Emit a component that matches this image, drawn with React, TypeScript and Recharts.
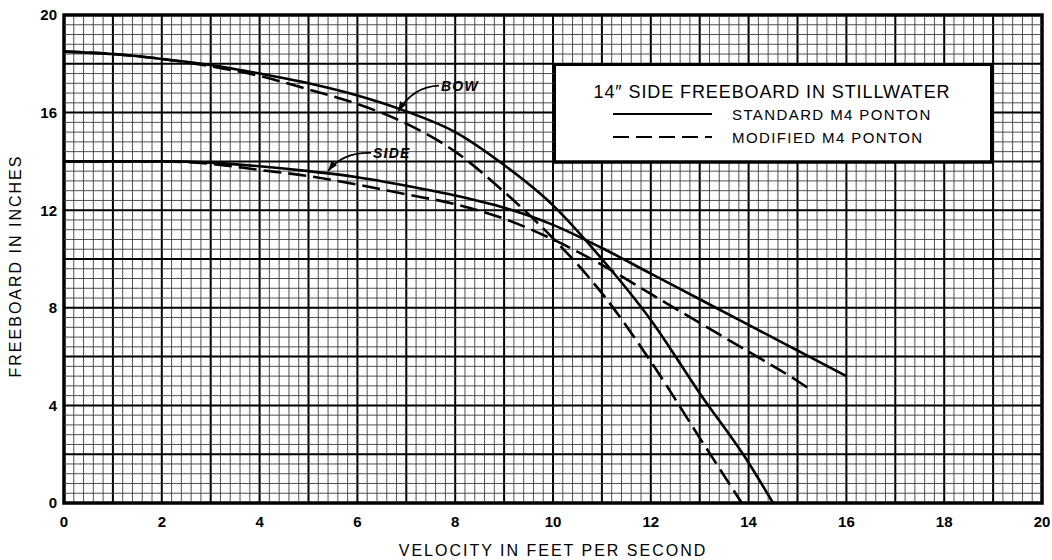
import React from 'react';
import {
  LineChart,
  Line,
  XAxis,
  YAxis,
  ReferenceLine,
  ReferenceArea,
  ReferenceDot,
} from 'recharts';

// velocity (ft/s) and freeboard (in)
const bowStdVelocity = [0, 1, 2, 3, 4, 5, 6, 7, 8, 9, 10, 11, 12, 13, 14, 14.5];
const bowStdFreeboard = [18.5, 18.4, 18.2, 17.95, 17.6, 17.2, 16.7, 16.05, 15.2, 13.85, 12.2, 10.0, 7.5, 4.5, 1.65, 0];

const bowModVelocity = [0, 1, 2, 3, 4, 5, 6, 7, 8, 9, 10, 11, 12, 13, 13.86];
const bowModFreeboard = [18.5, 18.4, 18.2, 17.9, 17.5, 16.95, 16.35, 15.55, 14.4, 12.75, 10.85, 8.6, 5.8, 2.67, 0];

const sideStdVelocity = [0, 1, 2, 3, 4, 5, 6, 7, 8, 9, 10, 11, 12, 13, 14, 15, 16];
const sideStdFreeboard = [14.0, 14.0, 14.0, 13.95, 13.8, 13.6, 13.35, 13.0, 12.6, 12.1, 11.4, 10.45, 9.4, 8.35, 7.3, 6.25, 5.2];

const sideModVelocity = [0, 1, 2, 3, 4, 5, 6, 7, 8, 9, 10, 11, 12, 13, 14, 15, 15.3];
const sideModFreeboard = [14.0, 14.0, 14.0, 13.9, 13.65, 13.4, 13.05, 12.65, 12.25, 11.65, 10.8, 9.76, 8.57, 7.38, 6.2, 5.0, 4.6];

const xTicks = [0, 2, 4, 6, 8, 10, 12, 14, 16, 18, 20];
const yTicks = [0, 4, 8, 12, 16, 20];

// graph paper: 0.2 ft/s and 0.4 in subdivisions
const gridX = Array.from({ length: 101 }, (_, i) => i / 5);
const gridY = Array.from({ length: 51 }, (_, i) => (i * 2) / 5);

const toPoints = (xs: number[], ys: number[]) => xs.map((v, i) => ({ v, f: ys[i] }));

const bowStd = toPoints(bowStdVelocity, bowStdFreeboard);
const bowMod = toPoints(bowModVelocity, bowModFreeboard);
const sideStd = toPoints(sideStdVelocity, sideStdFreeboard);
const sideMod = toPoints(sideModVelocity, sideModFreeboard);

const FONT = '"Liberation Sans", Arial, sans-serif';
const DASH = '18 7';

function arrowHead(x0: number, y0: number, x1: number, y1: number) {
  const dx = x1 - x0;
  const dy = y1 - y0;
  const len = Math.sqrt(dx * dx + dy * dy) || 1;
  const ux = dx / len;
  const uy = dy / len;
  const bx = x1 - ux * 10;
  const by = y1 - uy * 10;
  return `${x1},${y1} ${bx - uy * 3.5},${by + ux * 3.5} ${bx + uy * 3.5},${by - ux * 3.5}`;
}

function Callout(props: any) {
  const { cx, cy, text, tx, ty, qx, qy } = props;
  if (cx == null || cy == null) return null;
  return (
    <g>
      <path
        d={`M ${cx + tx - 2} ${cy + ty - 5} Q ${cx + qx} ${cy + qy} ${cx + 1} ${cy - 1}`}
        fill="none"
        stroke="#000"
        strokeWidth={1.8}
      />
      <polygon points={arrowHead(cx + qx, cy + qy, cx + 1, cy - 1)} fill="#000" />
      <text
        x={cx + tx}
        y={cy + ty}
        fontFamily={FONT}
        fontSize={14}
        fontWeight="bold"
        fontStyle="italic"
        letterSpacing={1.2}
        fill="#000"
      >
        {text}
      </text>
    </g>
  );
}

export default function App() {
  return (
    <div style={{ position: 'absolute', left: 0, top: 0, width: 1052, height: 560, background: '#fff' }}>
      <LineChart width={1052} height={560} margin={{ top: 15, right: 10, bottom: 17, left: 24 }}>
        <XAxis
          type="number"
          dataKey="v"
          domain={[0, 20]}
          ticks={xTicks}
          axisLine={false}
          tickLine={false}
          tickSize={6}
          tickMargin={7}
          height={40}
          tick={{ fontSize: 15, fill: '#000', fontFamily: FONT, fontWeight: 'bold' }}
          allowDataOverflow
        />
        <YAxis
          type="number"
          dataKey="f"
          domain={[0, 20]}
          ticks={yTicks}
          axisLine={false}
          tickLine={false}
          tickSize={4}
          tickMargin={3}
          width={40}
          tick={{ fontSize: 15, fill: '#000', fontFamily: FONT, fontWeight: 'bold' }}
          allowDataOverflow
        />
        {gridX.map((x, i) => (
          <ReferenceLine
            key={`gx${i}`}
            x={x}
            stroke={i % 5 === 0 ? '#000' : '#3c3c3c'}
            strokeWidth={i % 5 === 0 ? 2 : 0.9}
          />
        ))}
        {gridY.map((y, i) => (
          <ReferenceLine
            key={`gy${i}`}
            y={y}
            stroke={i % 5 === 0 ? '#000' : '#3c3c3c'}
            strokeWidth={i % 5 === 0 ? 2 : 0.9}
          />
        ))}
        <ReferenceArea x1={0} x2={20} y1={0} y2={20} fill="none" stroke="#000" strokeWidth={3.5} />
        <Line data={bowStd} dataKey="f" type="monotone" stroke="#000" strokeWidth={2.6} dot={false} isAnimationActive={false} />
        <Line data={bowMod} dataKey="f" type="monotone" stroke="#000" strokeWidth={2.6} strokeDasharray={DASH} dot={false} isAnimationActive={false} />
        <Line data={sideStd} dataKey="f" type="monotone" stroke="#000" strokeWidth={2.6} dot={false} isAnimationActive={false} />
        <Line data={sideMod} dataKey="f" type="monotone" stroke="#000" strokeWidth={2.6} strokeDasharray={DASH} dot={false} isAnimationActive={false} />
        <ReferenceDot
          x={6.81}
          y={16.0}
          r={0}
          shape={(p: any) => <Callout {...p} text="BOW" tx={44} ty={-22} qx={16} qy={-26} />}
        />
        <ReferenceDot
          x={5.38}
          y={13.57}
          r={0}
          shape={(p: any) => <Callout {...p} text="SIDE" tx={46} ty={-14} qx={16} qy={-20} />}
        />
      </LineChart>

      <svg
        width={1052}
        height={560}
        style={{ position: 'absolute', left: 0, top: 0, pointerEvents: 'none' }}
      >
        <text
          x={553}
          y={556}
          textAnchor="middle"
          fontFamily={FONT}
          fontSize={16}
          letterSpacing={2}
          fill="#000"
        >
          VELOCITY IN FEET PER SECOND
        </text>
        <text
          x={21}
          y={266}
          textAnchor="middle"
          transform="rotate(-90 21 266)"
          fontFamily={FONT}
          fontSize={16}
          letterSpacing={2}
          fill="#000"
        >
          FREEBOARD IN INCHES
        </text>

        <rect x={555} y={65} width={437} height={97} fill="#fff" stroke="#000" strokeWidth={2} />
        <line x1={992} y1={64} x2={992} y2={163} stroke="#000" strokeWidth={4} />
        <line x1={554} y1={162} x2={994} y2={162} stroke="#000" strokeWidth={3.5} />
        <text x={772} y={98} textAnchor="middle" fontFamily={FONT} fontSize={18} letterSpacing={0.9} fill="#000">
          14″ SIDE FREEBOARD IN STILLWATER
        </text>
        <line x1={613} y1={114} x2={712} y2={114} stroke="#000" strokeWidth={2} />
        <text x={732} y={119.5} fontFamily={FONT} fontSize={15} letterSpacing={1.4} fill="#000">
          STANDARD M4 PONTON
        </text>
        <line x1={613} y1={137} x2={712} y2={137} stroke="#000" strokeWidth={2} strokeDasharray="16 7" />
        <text x={732} y={142.5} fontFamily={FONT} fontSize={15} letterSpacing={1.4} fill="#000">
          MODIFIED M4 PONTON
        </text>
      </svg>
    </div>
  );
}
